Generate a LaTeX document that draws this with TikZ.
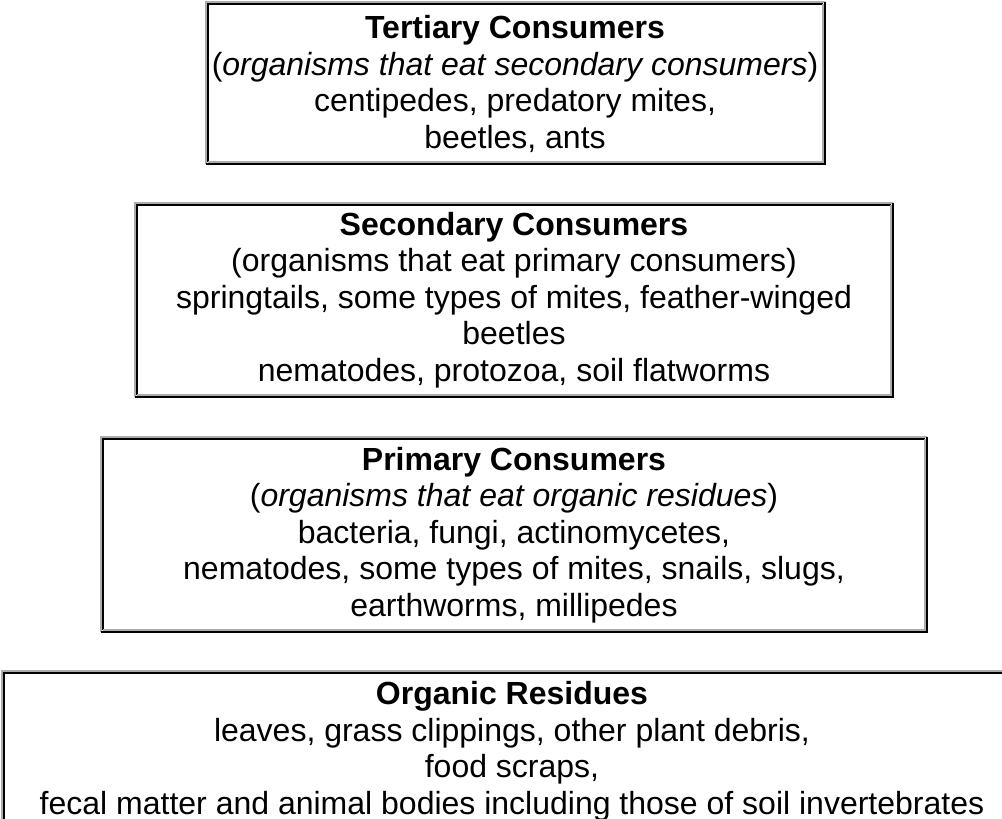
\documentclass[tikz,border=0pt]{standalone}
\usepackage{fontspec}
\setmainfont{Liberation Sans}
\tikzset{
  lite/.style={draw=gray!65, line width=2pt},
  dark/.style={draw=black, line width=2pt},
  label/.style={align=center, inner sep=0pt, font=\fontsize{32}{36.5}\selectfont}
}
% sunken box: #1,#2 top left, #3,#4 bottom right
\newcommand{\pyrbox}[4]{%
  \draw[lite] (#1+1,#4-1) -- (#1+1,#2+1) -- (#3-1,#2+1);
  \draw[dark] (#1+1,#4-1) -- (#3-1,#4-1) -- (#3-1,#2+1);
  \draw[dark] (#1+3,#4-3) -- (#1+3,#2+3) -- (#3-3,#2+3);
  \draw[lite] (#1+3,#4-3) -- (#3-3,#4-3) -- (#3-3,#2+3);
}
\begin{document}
\begin{tikzpicture}[x=1pt, y=-1pt]
  \useasboundingbox (0,0) rectangle (1002,819);
  \pyrbox{205}{1}{826}{165}
  \pyrbox{134}{202}{894}{398}
  \pyrbox{100}{436}{928}{633}
  \pyrbox{1}{670}{1024}{832}
  \node[label] (tertiary) at (515,84) {\textbf{Tertiary Consumers}\\
    (\textit{organisms that eat secondary consumers})\\
    centipedes, predatory mites,\\beetles, ants};
  \node[label] (secondary) at (514,300) {\textbf{Secondary Consumers}\\
    (organisms that eat primary consumers)\\
    springtails, some types of mites, feather-winged\\beetles\\
    nematodes, protozoa, soil flatworms};
  \node[label] (primary) at (514,535) {\textbf{Primary Consumers}\\
    (\textit{organisms that eat organic residues})\\
    bacteria, fungi, actinomycetes,\\
    nematodes, some types of mites, snails, slugs,\\
    earthworms, millipedes};
  \node[label] (residues) at (512,751) {\textbf{Organic Residues}\\
    leaves, grass clippings, other plant debris,\\food scraps,\\
    fecal matter and animal bodies including those of soil invertebrates};
\end{tikzpicture}
\end{document}
